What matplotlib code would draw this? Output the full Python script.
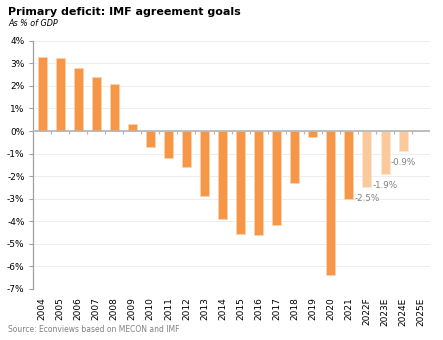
import numpy as np
import matplotlib
matplotlib.use("Agg")
from matplotlib import pyplot as plt

# primary balance, % of GDP
years = ["2004", "2005", "2006", "2007", "2008", "2009", "2010", "2011",
         "2012", "2013", "2014", "2015", "2016", "2017", "2018", "2019",
         "2020", "2021", "2022F", "2023E", "2024E", "2025E"]
actual = [3.3, 3.25, 2.8, 2.4, 2.1, 0.3, -0.7, -1.2, -1.6, -2.9, -3.9,
          -4.55, -4.6, -4.15, -2.3, -0.25, -6.4, -3.0]
goals = [-2.5, -1.9, -0.9, np.nan]
goal_labels = ["-2.5%", "-1.9%", "-0.9%", ""]

dark = "#F79646"
light = "#FAC99C"

plt.rcParams['font.family'] = ['DejaVu Sans']
fig = plt.figure(figsize=(4.43, 3.40), dpi=100)
ax = fig.add_axes([0.0745, 0.15, 0.8965, 0.73])

x = np.arange(len(years))
xa = x[:len(actual)]
xg = x[len(actual):]
ax.bar(xa, actual, width=0.5, color=dark, edgecolor="#FBD3B0", linewidth=0.6, zorder=3)
ax.bar(xg, goals, width=0.5, color=light, edgecolor="#FDE6D2", linewidth=0.6, zorder=3)

# goal values written under the end of each bar
for xi, v, lab in zip(xg, goals, goal_labels):
    if lab:
        ax.text(xi, v - 0.5, lab, fontsize=6.3, color="#808080",
                ha="center", va="center", zorder=4)

ax.set_xlim(-0.5, len(years) - 0.5)
ax.set_ylim(-7, 4)
ax.set_yticks(np.arange(-7, 5, 1))
ax.set_yticklabels([f"{v}%" for v in range(-7, 5)], fontsize=6.5)
ax.yaxis.grid(True, color="#EBEBEB", linewidth=0.6, zorder=0)

ax.set_xticks(x)
ax.set_xticklabels(years, rotation=90, fontsize=6.5)
ax.tick_params(axis="x", length=0, pad=6)
ax.tick_params(axis="y", length=3, color="#A0A0A0", width=0.8, pad=3)

# zero line with category separators hanging below it
ax.axhline(0, color="#B4B4B4", linewidth=1.2, zorder=4)
ax.vlines(np.arange(0.5, len(years)), -0.13, 0, color="#B4B4B4", linewidth=0.8, zorder=4)

for s in ["top", "right", "bottom"]:
    ax.spines[s].set_visible(False)
ax.spines["left"].set_color("#A0A0A0")
ax.spines["left"].set_linewidth(0.9)

fig.text(0.018, 0.965, "Primary deficit: IMF agreement goals", fontsize=8,
         fontweight="bold", ha="left", va="center")
fig.text(0.018, 0.93, "As % of GDP", fontsize=5.8, style="italic",
         ha="left", va="center")
fig.text(0.018, 0.03, "Source: Econviews based on MECON and IMF", fontsize=5.5,
         color="#808080", ha="left", va="center")

fig.savefig("out.png", dpi=100)
